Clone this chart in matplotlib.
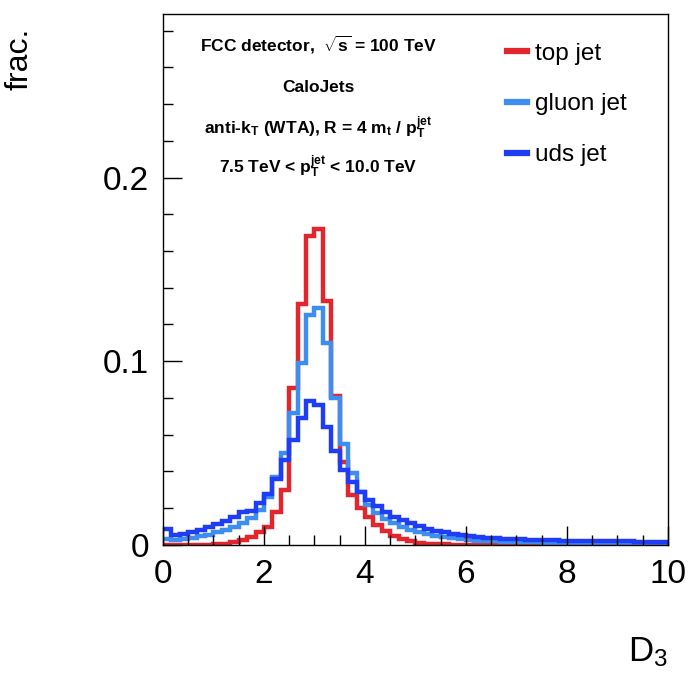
import numpy as np
import matplotlib
matplotlib.use("Agg")
import matplotlib.pyplot as plt
from matplotlib.lines import Line2D
from matplotlib.ticker import MultipleLocator

plt.rcParams["font.family"] = ["Liberation Sans", "DejaVu Sans"]
plt.rcParams["mathtext.fontset"] = "custom"
plt.rcParams["mathtext.rm"] = "Liberation Sans"
plt.rcParams["mathtext.it"] = "Liberation Sans"
plt.rcParams["mathtext.bf"] = "Liberation Sans:bold"

# D3 histogram, 60 bins from 0 to 10 (normalised fractions)
bin_edges = np.linspace(0, 10, 61)

top_jet = [
    0.0, 0.0, 0.0, 0.0, 0.0, 0.0002, 0.0004, 0.0008, 0.0015, 0.0027,
    0.0045, 0.0072, 0.0097, 0.018, 0.030, 0.0855, 0.131, 0.168, 0.172, 0.133,
    0.081, 0.045, 0.027, 0.020, 0.0155, 0.011, 0.0075, 0.0048, 0.003, 0.002,
    0.0013, 0.0008, 0.0005, 0.0003, 0.0002, 0.0002, 0.0001, 0.0001, 0.0, 0.0,
    0.0, 0.0, 0.0, 0.0, 0.0, 0.0, 0.0, 0.0, 0.0, 0.0,
    0.0, 0.0, 0.0, 0.0, 0.0, 0.0, 0.0, 0.0, 0.0, 0.0,
]

gluon_jet = [
    0.0030, 0.0029, 0.0034, 0.0040, 0.0048, 0.0057, 0.0068, 0.0082, 0.0098, 0.0118,
    0.0145, 0.019, 0.026, 0.037, 0.050, 0.072, 0.099, 0.125, 0.129, 0.110,
    0.080, 0.055, 0.039, 0.029, 0.022, 0.0175, 0.0142, 0.0118, 0.0098, 0.0082,
    0.0069, 0.0058, 0.0049, 0.0042, 0.0036, 0.0031, 0.0027, 0.0024, 0.0021, 0.0019,
    0.0017, 0.0016, 0.0015, 0.0014, 0.0014, 0.0013, 0.0013, 0.0012, 0.0012, 0.0012,
    0.0011, 0.0011, 0.0011, 0.0011, 0.0010, 0.0010, 0.0010, 0.0010, 0.0010, 0.0010,
]

uds_jet = [
    0.0085, 0.0052, 0.0060, 0.0070, 0.0082, 0.0096, 0.0112, 0.0130, 0.0152, 0.0180,
    0.0185, 0.023, 0.028, 0.036, 0.046, 0.057, 0.069, 0.0785, 0.076, 0.064,
    0.051, 0.041, 0.0345, 0.029, 0.0245, 0.021, 0.018, 0.0155, 0.0135, 0.0118,
    0.0102, 0.0089, 0.0078, 0.0068, 0.0060, 0.0053, 0.0047, 0.0043, 0.0040, 0.0037,
    0.0035, 0.0033, 0.0031, 0.0029, 0.0027, 0.0026, 0.0025, 0.0024, 0.0023, 0.0022,
    0.0021, 0.0021, 0.0020, 0.0020, 0.0019, 0.0019, 0.0018, 0.0018, 0.0018, 0.0017,
]

labels = ["top jet", "gluon jet", "uds jet"]
colors = ["#e3262d", "#3d8ef0", "#1f3df5"]

fig = plt.figure(figsize=(6.98, 6.82), dpi=100)
ax = fig.add_axes([0.2335, 0.2009, 0.7235, 0.7786])

for vals, col in zip([top_jet, gluon_jet, uds_jet], colors):
    ax.stairs(vals, bin_edges, color=col, linewidth=3.2, baseline=None)

ax.set_xlim(0, 10)
ax.set_ylim(0, 0.289)

ax.xaxis.set_major_locator(MultipleLocator(2))
ax.xaxis.set_minor_locator(MultipleLocator(0.5))
ax.yaxis.set_major_locator(MultipleLocator(0.1))
ax.yaxis.set_minor_locator(MultipleLocator(0.02))
ax.yaxis.set_major_formatter(plt.FuncFormatter(lambda v, p: "0" if v == 0 else f"{v:.1f}"))

ax.tick_params(which="both", direction="in", top=False, right=False, labelsize=24, width=1.0)
ax.tick_params(which="major", length=14, pad=10)
ax.tick_params(which="minor", length=7)
for sp in ax.spines.values():
    sp.set_linewidth(1.0)

ax.set_ylabel("frac.", fontsize=23, loc="top")
ax.yaxis.set_label_coords(-0.255, 0.975)
ax.set_xlabel("$\\mathregular{D_3}$", fontsize=25, loc="right")
ax.xaxis.set_label_coords(1.0, -0.17)

# annotation block
txt_lines = [
    r"FCC detector,  $\mathbf{\sqrt{s}}$ = 100 TeV",
    "CaloJets",
    r"anti-$\mathbf{k_{T}}$ (WTA), R = 4 $\mathbf{m_{t}}$ / $\mathbf{p_{T}^{jet}}$",
    r"7.5 TeV < $\mathbf{p_{T}^{jet}}$ < 10.0 TeV",
]
txt_y = [0.942, 0.861, 0.785, 0.712]
for s, yy in zip(txt_lines, txt_y):
    ax.text(0.307, yy, s, transform=ax.transAxes, ha="center", va="center",
            fontsize=12.5, fontweight="bold")

handles = [Line2D([0], [0], color=c, linewidth=4.5) for c in colors]
ax.legend(handles, labels, loc="upper left", bbox_to_anchor=(0.682, 0.946),
          frameon=False, fontsize=17.5, handlelength=0.82, handletextpad=0.3,
          labelspacing=1.18, borderpad=0, borderaxespad=0)

fig.savefig("out.png", dpi=100)
